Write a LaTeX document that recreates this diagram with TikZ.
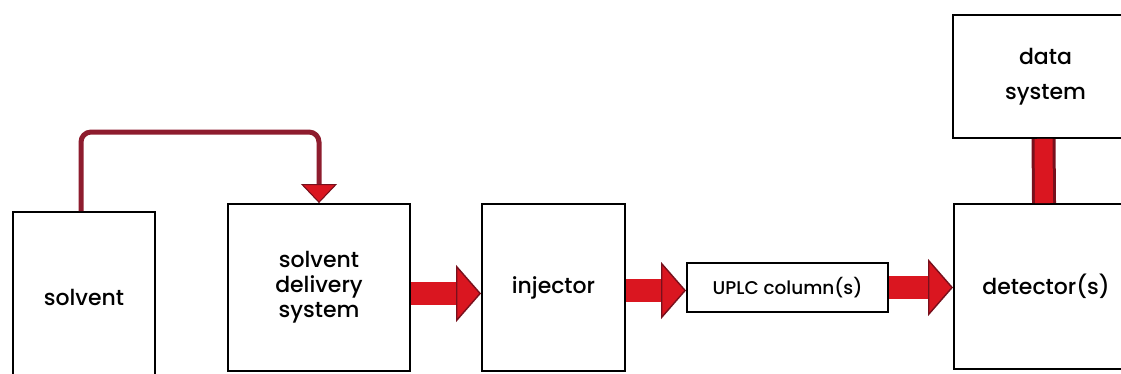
\documentclass[tikz,border=0pt]{standalone}
\usepackage{fontspec}
\setmainfont{Poppins}[UprightFont=* Medium]
\usetikzlibrary{positioning}
\usetikzlibrary{arrows.meta}
\definecolor{pipe}{RGB}{218,22,32}
\definecolor{pipeedge}{RGB}{120,16,28}
\definecolor{feed}{RGB}{142,28,46}

\begin{document}
\begin{tikzpicture}[
  x=0.02cm, y=-0.02cm,
  unit/.style = {draw, line width=1.1pt, align=center, inner sep=0pt,
    font=\fontsize{12.5}{14.2}\selectfont},
  flow/.style = {
    line width=0.46cm, color=pipe,
    -{Triangle[length=0.5cm, width=1.14cm, line width=0.8pt, color=pipeedge, fill=pipe]}
  },
  feedback/.style = {
    line width=0.1cm, color=feed, rounded corners=0.2cm,
    -{Triangle[length=0.38cm, width=0.72cm, line width=0.6pt, color=pipeedge, fill=pipe]}
  },
]

  \clip (0,0) rectangle (1121,374);
  \fill[white] (0,0) rectangle (1121,374);

  % units
  \node[unit, minimum width=2.84cm, minimum height=3.4cm]  (solvent)  at (84,297)    {solvent};
  \node[unit, minimum width=3.64cm, minimum height=3.34cm] (delivery) at (319,287.5) {solvent\\delivery\\system};
  \node[unit, minimum width=2.86cm, minimum height=3.34cm] (injector) at (553.5,287.5) {injector};
  \node[unit, minimum width=4.02cm, minimum height=0.98cm,
        font=\fontsize{10.5}{11}\selectfont]               (column)   at (787.5,287.5) {UPLC column(s)};
  \node[unit, minimum width=3.68cm, minimum height=3.3cm]  (detector) at (1046,286.5) {detector(s)};
  \node[unit, minimum width=3.7cm, minimum height=2.46cm,
        font=\fontsize{12.5}{20}\selectfont]               (data)     at (1045.5,76.5) {data\\system};

  % solvent line back to the pump
  \draw[feedback] ([xshift=-0.06cm]solvent.north) -- ++(0,-79) -| (delivery.north);

  % main flow
  \draw[flow] ([yshift=-0.12cm]delivery.east) -- ([yshift=-0.12cm]delivery.east -| injector.west);
  \draw[flow] ([yshift=-0.06cm]injector.east) -- ([yshift=-0.06cm]injector.east -| column.west);
  \draw[flow] (column.east) -- (column.east -| detector.west);

  % detector to data system
  \draw[line width=0.48cm, color=pipeedge] ([xshift=-0.04cm]data.south) -- ([xshift=-0.04cm]detector.north);
  \draw[line width=0.36cm, color=pipe] ([xshift=-0.04cm]data.south) -- ([xshift=-0.04cm]detector.north);

\end{tikzpicture}
\end{document}
